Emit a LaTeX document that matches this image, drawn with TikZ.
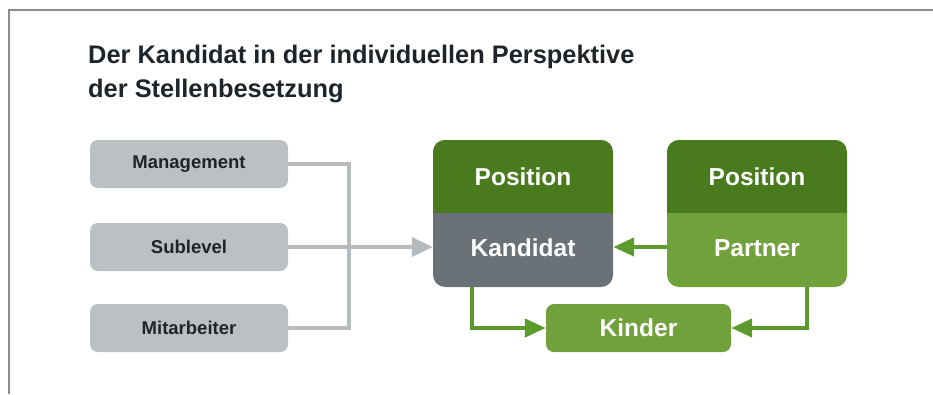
\documentclass[tikz,border=0pt]{standalone}
\usepackage{fontspec}
\setmainfont{Liberation Sans}
\usetikzlibrary{arrows.meta,calc}
\definecolor{dkgreen}{HTML}{4A7A1E}
\definecolor{ltgreen}{HTML}{71A13A}
\definecolor{argreen}{HTML}{5C9A2C}
\definecolor{kandgray}{HTML}{6A7277}
\definecolor{boxgray}{HTML}{BBC0C2}
\definecolor{linegray}{HTML}{B7BBBD}
\definecolor{textdark}{HTML}{1E2428}
\definecolor{framegray}{HTML}{8C8C8C}
\tikzset{
  leftbox/.style={rectangle, rounded corners=8pt, fill=boxgray, minimum width=198pt, minimum height=48pt, inner sep=0pt, text=textdark, font=\bfseries\fontsize{18.5}{22}\selectfont},
  bigbox/.style={rectangle, rounded corners=12pt, minimum width=180pt, minimum height=147pt, inner sep=0pt},
  halflabel/.style={rectangle, minimum width=180pt, minimum height=73pt, inner sep=0pt, text=white, font=\bfseries\fontsize{24.5}{28}\selectfont},
  kinderbox/.style={rectangle, rounded corners=8pt, fill=ltgreen, minimum width=185pt, minimum height=48pt, inner sep=0pt, text=white, font=\bfseries\fontsize{24.5}{28}\selectfont},
  titletext/.style={anchor=base west, inner sep=0pt, text=textdark, font=\bfseries\fontsize{25.4}{30}\selectfont},
  grayline/.style={draw=linegray, line width=4pt},
  greenline/.style={draw=argreen, line width=4.5pt},
  graytip/.style={-{Triangle[length=21pt,width=19pt]}},
  greentip/.style={-{Triangle[length=21pt,width=18pt]}},
  tophalf/.style={path picture={\fill[dkgreen, sharp corners] (path picture bounding box.north west) rectangle ($(path picture bounding box.north east)+(0,73)$);}}
}
\begin{document}
\begin{tikzpicture}[x=1pt,y=-1pt]
\useasboundingbox (0,0) rectangle (933,394);
% frame
\draw[framegray, line width=2pt] (933,10) -- (9,10) -- (9,394);
% title
\node[titletext] (title1) at (88,63) {Der Kandidat in der individuellen Perspektive};
\node[titletext] (title2) at (88,97) {der Stellenbesetzung};
% left boxes
\node[leftbox] (mgmt) at (189,164) {Management};
\node[leftbox] (sub) at (189,247) {Sublevel};
\node[leftbox] (mit) at (189,328) {Mitarbeiter};
% candidate block
\node[bigbox, fill=kandgray, tophalf] (candbox) at (523,213.5) {};
\node[halflabel] (pos1) at (523,176.5) {Position};
\node[halflabel] (kand) at (523,248) {Kandidat};
% partner block
\node[bigbox, fill=ltgreen, tophalf] (partbox) at (757,213.5) {};
\node[halflabel] (pos2) at (757,176.5) {Position};
\node[halflabel] (partner) at (757,248) {Partner};
% kinder
\node[kinderbox] (kinder) at (638.5,328) {Kinder};
% gray connectors
\draw[grayline] (mgmt.east) -- ++(61,0) |- (mit.east);
\draw[grayline, graytip] (sub.east) -- (sub.east -| candbox.west);
% green connectors
\draw[greenline, greentip] (partner.west |- 0,247) -- (candbox.east |- 0,247);
\draw[greenline, greentip] ($(candbox.south west)+(39,0)$) |- (kinder.west);
\draw[greenline, greentip] ($(partbox.south east)+(-40,0)$) |- (kinder.east);
\end{tikzpicture}
\end{document}
